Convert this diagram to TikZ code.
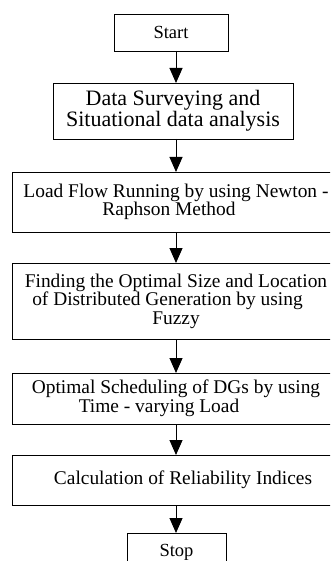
\documentclass[tikz,border=0pt]{standalone}
\usepackage{fontspec}
\setmainfont{Liberation Serif}
\usetikzlibrary{arrows.meta}

\begin{document}
\begin{tikzpicture}[x=1pt, y=-1pt, box/.style={draw, line width=0.9pt, inner sep=0pt, outer sep=0pt, align=center, font=\fontsize{19.4}{18.5}\selectfont}, endbox/.style={box, font=\fontsize{18.5}{20}\selectfont}, flow/.style={-{Triangle[length=15pt,width=13pt]}, line width=1pt}]
\useasboundingbox (0,0) rectangle (330,561);
\clip (0,0) rectangle (330,561);
\node[endbox, minimum width=114pt, minimum height=37pt] (start) at (171,32.5) {Start};
\node[box, minimum width=240pt, minimum height=56pt, font=\fontsize{22}{21}\selectfont] (survey) at (173,111) {Data Surveying and\\Situational data analysis};
\node[box, minimum width=328pt, minimum height=60pt] (loadflow) at (176,202) {Load Flow Running by using Newton -\\Raphson Method\hspace*{14pt}\mbox{}};
\node[box, minimum width=328pt, minimum height=76pt] (sizing) at (176,301) {Finding the Optimal Size and Location\\of Distributed Generation by using\hspace*{17pt}\mbox{}\\Fuzzy};
\node[box, minimum width=328pt, minimum height=51pt] (schedule) at (176,398.5) {Optimal Scheduling of DGs by using\\Time - varying Load\hspace*{34pt}\mbox{}};
\node[box, minimum width=328pt, minimum height=50pt] (indices) at (176,480) {\mbox{}\hspace*{14pt}Calculation of Reliability Indices};
\node[endbox, minimum width=99pt, minimum height=38pt] (stop) at (176.5,552) {Stop};
\draw[flow] (start.south -| loadflow.center) -- (survey.north -| loadflow.center);
\draw[flow] (survey.south -| loadflow.center) -- (loadflow.north);
\draw[flow] (loadflow.south) -- (sizing.north);
\draw[flow] (sizing.south) -- (schedule.north);
\draw[flow] (schedule.south) -- (indices.north);
\draw[flow] (indices.south) -- (stop.north -| loadflow.center);
\end{tikzpicture}
\end{document}
